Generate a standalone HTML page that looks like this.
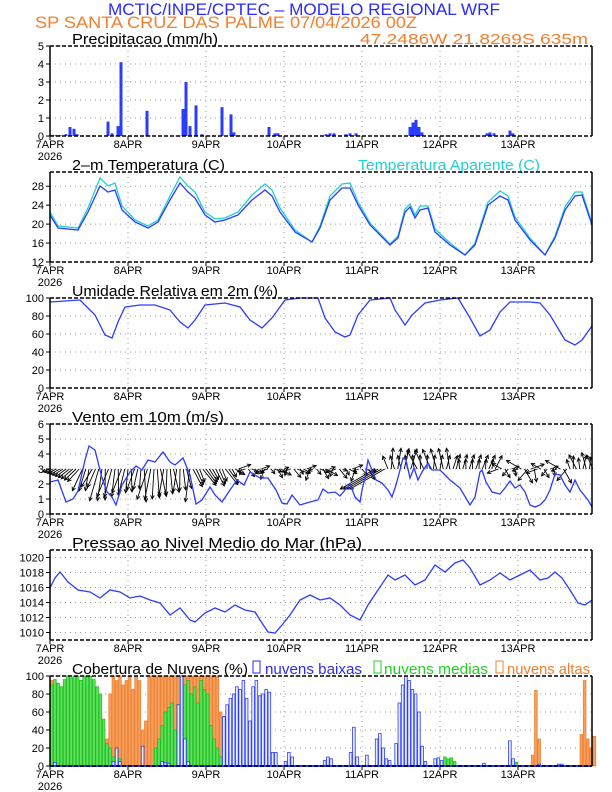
<!DOCTYPE html>
<html><head><meta charset="utf-8"><style>
html,body{margin:0;padding:0;background:#fff}
svg{display:block}
text{font-family:"Liberation Sans",sans-serif}
.t{font-size:15px;fill:#000}
.tk{font-size:11px;fill:#000}
.xl{font-size:11px;fill:#000;text-anchor:middle}
</style></head><body>
<svg id="s" width="612" height="792" viewBox="0 0 612 792" xmlns="http://www.w3.org/2000/svg">
<text x="108" y="15" font-size="17" fill="#2a2aff" textLength="392" lengthAdjust="spacingAndGlyphs">MCTIC/INPE/CPTEC – MODELO REGIONAL WRF</text>
<text x="35" y="28" font-size="17" fill="#f08030" textLength="382" lengthAdjust="spacingAndGlyphs">SP SANTA CRUZ DAS PALME   07/04/2026 00Z</text>
<text x="360" y="44" font-size="15" fill="#f08030" textLength="228" lengthAdjust="spacingAndGlyphs">47.2486W 21.8269S 635m</text>
<text class="t" x="72" y="44" textLength="146" lengthAdjust="spacingAndGlyphs">Precipitacao (mm/h)</text>
<text class="t" x="72" y="170" textLength="153" lengthAdjust="spacingAndGlyphs">2–m Temperatura (C)</text>
<text x="358" y="170" font-size="15" fill="#20d0d0" textLength="182" lengthAdjust="spacingAndGlyphs">Temperatura Aparente (C)</text>
<text class="t" x="72" y="296" textLength="206" lengthAdjust="spacingAndGlyphs">Umidade Relativa em 2m (%)</text>
<text class="t" x="72" y="422" textLength="152" lengthAdjust="spacingAndGlyphs">Vento em 10m (m/s)</text>
<text class="t" x="72" y="548" textLength="290" lengthAdjust="spacingAndGlyphs">Pressao ao Nivel Medio do Mar (hPa)</text>
<text class="t" x="72" y="674" textLength="176" lengthAdjust="spacingAndGlyphs">Cobertura de Nuvens (%)</text>
<rect x="253" y="661" width="7" height="12" fill="none" stroke="#2a2aff"/>
<text x="265" y="674" font-size="15" fill="#2a2aff" textLength="97" lengthAdjust="spacingAndGlyphs">nuvens baixas</text>
<rect x="374" y="661" width="7" height="12" fill="none" stroke="#20d020"/>
<text x="384" y="674" font-size="15" fill="#20d020" textLength="104" lengthAdjust="spacingAndGlyphs">nuvens medias</text>
<rect x="496" y="661" width="7" height="12" fill="none" stroke="#f08030"/>
<text x="507" y="674" font-size="15" fill="#f08030" textLength="83" lengthAdjust="spacingAndGlyphs">nuvens altas</text>
<g id="g"></g>
</svg>
<script>
var NS="http://www.w3.org/2000/svg",G=document.getElementById('g');
function el(n,a){var e=document.createElementNS(NS,n);for(var k in a)e.setAttribute(k,a[k]);G.appendChild(e);return e;}
var X0=50,X1=592,DW=78,H=3.25;
var tops=[46,172,298,424,550,676];
var days=["7APR","8APR","9APR","10APR","11APR","12APR","13APR"];
function panel(top,labels,ymin,ymax){
 var bot=top+90;
 labels.forEach(function(v){var y=bot-(v-ymin)/(ymax-ymin)*90;
  el('line',{x1:X0,x2:X1,y1:y,y2:y,stroke:'#999','stroke-dasharray':'1,4'});
  el('line',{x1:X0-4,x2:X0,y1:y,y2:y,stroke:'#000'});
  var t=el('text',{x:X0-6,y:y+4,'text-anchor':'end','class':'tk'});t.textContent=v;});
 for(var d=0;d<7;d++){var x=X0+d*DW;
  if(d>0)el('line',{x1:x,x2:x,y1:top,y2:bot,stroke:'#999','stroke-dasharray':'1,4'});
  el('line',{x1:x,x2:x,y1:bot,y2:bot+4,stroke:'#000'});
  var t=el('text',{x:x,y:bot+12,'class':'xl'});t.textContent=days[d];}
 var t=el('text',{x:X0,y:bot+24,'class':'xl'});t.textContent="2026";
 return bot;}
function frame(top){var bot=top+90;
 el('line',{x1:X0,x2:X1,y1:top,y2:top,stroke:'#000','stroke-width':1.5,'stroke-dasharray':'4,2'});
 el('line',{x1:X0,x2:X1,y1:bot,y2:bot,stroke:'#000','stroke-width':1.5,'stroke-dasharray':'4,2'});
 el('line',{x1:X0,x2:X0,y1:top,y2:bot,stroke:'#000','stroke-width':1.5});
 el('line',{x1:X1,x2:X1,y1:top,y2:bot,stroke:'#000','stroke-width':1.5});}
function pl(pts,col,w){el('polyline',{points:pts,fill:'none',stroke:col,'stroke-width':w||1.3});}
panel(46,[0,1,2,3,4,5],0,5);
panel(172,[12,16,20,24,28],12,31);
panel(298,[0,20,40,60,80,100],0,100);
panel(424,[0,1,2,3,4,5,6],0,6);
panel(550,[1010,1012,1014,1016,1018,1020],1009,1021);
panel(676,[0,20,40,60,80,100],0,100);
var pr=[[52,0.05],[56,0.05],[60,0.05],[66,0.1],[70,0.5],[74,0.4],[77,0.1],[108,0.8],[112,0.15],[118,0.55],[121,4.1],[147,1.4],[183,1.5],[186,3.0],[190,0.55],[196,1.7],[202,0.1],[222,1.6],[231,1.2],[234,0.2],[269,0.5],[275,0.15],[278,0.15],[326,0.1],[330,0.15],[334,0.15],[346,0.1],[350,0.15],[356,0.15],[410,0.5],[413,0.75],[416,0.9],[419,0.5],[422,0.2],[487,0.15],[490,0.2],[494,0.15],[510,0.3],[513,0.15]];
pr.forEach(function(p){el('rect',{x:p[0]-1.5,y:136-p[1]*18,width:3,height:p[1]*18,fill:'#2a3cff'});});
var T="50,215 58,228 78,230 88,212 100,186 108,192 115,190 122,210 135,222 148,228 158,222 170,200 180,183 188,192 195,198 205,215 215,222 225,220 238,215 252,200 265,190 272,196 280,212 295,232 312,242 320,228 330,200 342,188 350,188 358,205 370,225 390,245 398,238 405,212 410,207 415,218 420,210 428,208 435,232 450,245 465,255 475,245 488,205 500,196 508,200 515,220 530,240 545,255 555,238 565,210 575,196 582,195 592,225";
var TA="50,212 58,226 78,228 88,208 100,178 108,186 115,183 122,206 135,220 148,226 158,220 170,196 180,177 188,186 195,192 205,212 215,219 225,218 238,212 252,195 265,184 272,190 280,208 295,230 312,242 320,226 330,196 342,184 350,183 358,202 370,223 390,244 398,236 405,209 410,204 415,215 420,206 428,206 435,229 450,243 465,255 475,243 488,202 500,191 508,196 515,217 530,238 545,255 555,236 565,207 575,192 582,192 592,223";
pl(TA,'#20d0d0');pl(T,'#2a3cff');
pl("50,302 80,300 95,315 105,335 112,338 118,322 125,307 140,305 155,305 170,310 180,322 188,328 195,320 205,305 225,303 240,307 250,320 262,328 272,318 285,300 300,298 318,298 325,318 335,332 345,337 350,335 358,315 370,300 390,298 395,310 405,325 412,315 425,303 440,300 458,298 470,318 480,336 490,330 500,312 510,302 530,302 540,303 550,315 565,340 575,345 582,340 592,326",'#2a3cff');
for(var h=0;h<168;h++){
 var x=X0+h*H,ang,len;
 if(h<10){ang=200+h*3;len=8+h;}
 else if(h<44){ang=250+((h*37)%30)-15+(h-10)*0.8;len=20+((h*13)%14);}
 else if(h<56){ang=290+((h*17)%20);len=12+((h*7)%10);}
 else if(h<100){ang=[300,330,20,250,200,310,340][h%7];len=5+((h*11)%9);}
 else if(h<104){ang=210;len=40;}
 else if(h<125){ang=70+((h*23)%50);len=14+((h*7)%14);}
 else if(h<138){ang=60+((h*19)%40);len=10+((h*5)%10);}
 else if(h<160){ang=[200,150,300,230,20,280][h%6];len=6+((h*11)%12);}
 else {ang=70+((h*29)%50);len=10+((h*3)%8);}
 var r=ang*Math.PI/180,dx=Math.cos(r)*len,dy=-Math.sin(r)*len,x2=x+dx,y2=469+dy;
 el('line',{x1:x,y1:469,x2:x2,y2:y2,stroke:'#000','stroke-width':0.9});
 var a1=r+Math.PI*0.85,a2=r-Math.PI*0.85;
 el('polyline',{points:(x2+Math.cos(a1)*4)+','+(y2-Math.sin(a1)*4)+' '+x2+','+y2+' '+(x2+Math.cos(a2)*4)+','+(y2-Math.sin(a2)*4),fill:'none',stroke:'#000','stroke-width':0.9});
}
pl("50,482 58,480 66,502 73,499 78,491 85,460 89,446 95,450 102,478 107,492 112,497 116,505 122,485 130,472 136,466 142,470 148,460 155,462 163,452 170,462 175,465 183,458 190,475 196,504 202,500 210,487 215,495 222,502 230,490 237,480 244,485 250,472 260,478 268,478 276,490 282,503 287,504 292,495 300,505 310,502 318,500 323,489 328,493 335,492 340,496 345,490 350,484 355,497 360,502 362,490 365,478 368,460 372,470 376,480 382,483 388,490 392,497 396,485 400,470 403,458 406,460 410,478 414,468 418,480 422,472 428,463 432,470 440,470 450,480 460,488 470,505 475,497 480,472 482,470 486,482 492,492 500,494 505,488 510,481 515,488 520,485 525,492 530,505 535,507 540,505 545,500 550,490 555,474 560,475 565,485 570,492 575,480 580,490 588,500 592,507",'#2a3cff');
pl("50,588 55,578 60,572 68,582 78,590 90,592 100,598 110,590 120,592 130,598 140,596 150,600 160,603 170,615 180,608 190,620 195,622 205,613 215,608 225,612 235,605 245,610 255,612 260,620 268,632 275,633 282,625 290,615 300,600 310,595 320,600 330,598 340,605 350,615 360,620 368,605 378,590 388,575 395,580 405,575 415,585 425,580 435,565 445,572 455,563 463,560 470,568 480,585 490,580 500,573 510,580 520,575 530,570 535,575 540,580 548,578 555,572 562,578 570,590 578,603 585,605 592,600",'#2a3cff');
var hi=new Array(168).fill(0),mi=new Array(168).fill(0),lo=new Array(168).fill(0);
function set(arr,h0,vals){vals.forEach(function(v,i){arr[h0+i]=v;});}
set(hi,0,[95,90,60,60,60,60,60,60,60,60,60,60,60,60,60,60,30,30]);
set(hi,18,[80,100,95,100,90,95,100,85,100,95,40,50]);
for(var h=30;h<52;h++)hi[h]=100;
set(hi,52,[60,55]);
set(hi,148,[12,84,30]);set(hi,163,[35,95,30,20,33]);
set(mi,0,[90,96,92,88,96,100,98,100,100,95,100,100,100,96,88,80,52,25,20,10,18,8]);
set(mi,32,[20,30,45,60,65,70,40,68,85,90,95,80,88,70,95,85,80,45,30,20,10,20,12]);
set(mi,120,[3,10,8,9,5]);set(mi,142,[5,4]);set(mi,112,[3]);set(mi,104,[3]);
set(lo,1,[4]);set(lo,19,[5,20,5]);set(lo,28,[22]);set(lo,34,[5,4,3]);
set(lo,39,[68,100,30,5]);
set(lo,53,[55,68,75,80,88,85,95,75,50,88,95,78,80,85,82,15,15]);
set(lo,72,[5,15,10]);set(lo,84,[6,10,8]);set(lo,92,[15,43,10]);set(lo,97,[12]);
set(lo,100,[30,36,20,8,6]);set(lo,106,[25,70,90,100,95,85,80,60,22,5]);
set(lo,118,[8,9,6]);set(lo,133,[3]);set(lo,141,[28,8]);set(lo,150,[2]);set(lo,156,[2,2]);
function bars(arr,fill,stroke){for(var h=0;h<168;h++){var v=arr[h];if(v<=0)continue;
 el('rect',{x:X0+h*H+0.3,y:766-v*0.9,width:H-0.6,height:v*0.9,fill:fill,stroke:stroke,'stroke-width':0.8});}}
bars(hi,'#f4a060','#f08030');
bars(mi,'#60e060','#20c020');
bars(lo,'#e8ecff','#2a3cff');
el('line',{x1:X0,x2:X1,y1:766,y2:766,stroke:'#2a3cff','stroke-width':2});
tops.forEach(frame);
</script>
</body></html>
